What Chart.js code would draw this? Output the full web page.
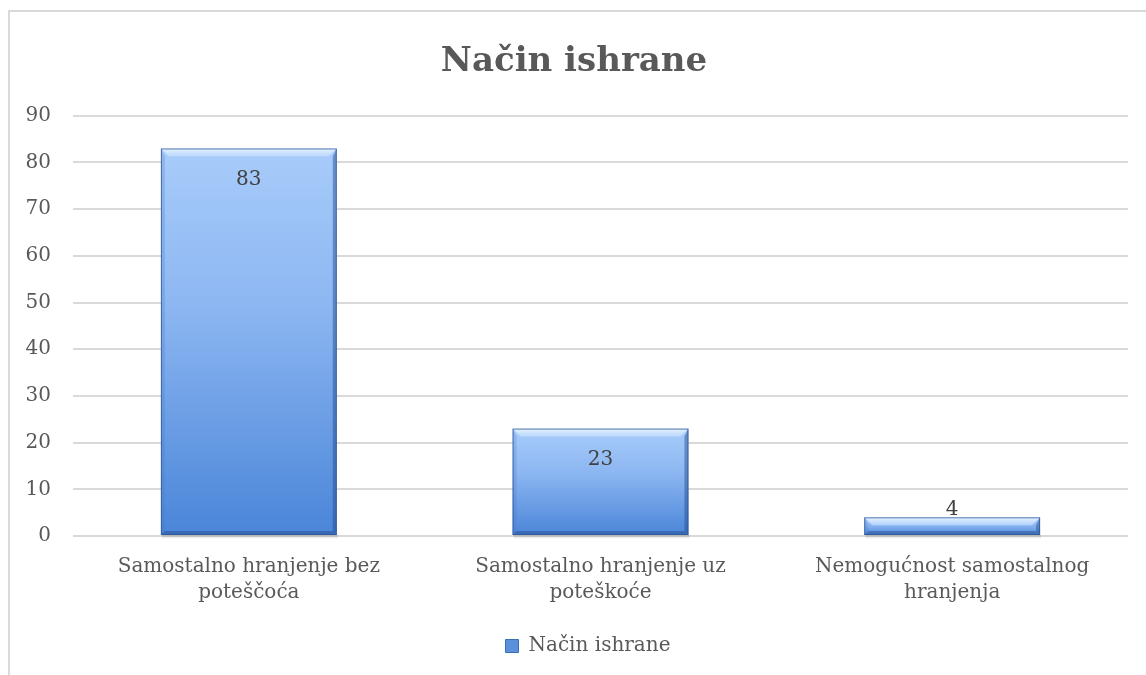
<!DOCTYPE html>
<html>
<head>
<meta charset="utf-8">
<script src="https://cdn.jsdelivr.net/npm/chart.js@4.4.1/dist/chart.umd.min.js"></script>
<style>
html,body{margin:0;padding:0;background:#fff;overflow:hidden;}
#c{position:absolute;left:0;top:0;}
</style>
</head>
<body>
<canvas id="c" width="1146" height="675"></canvas>
<script>
const titleText = 'Način ishrane';
const seriesName = 'Način ishrane';
const categories = [
  ['Samostalno hranjenje bez', 'poteščoća'],
  ['Samostalno hranjenje uz', 'poteškoće'],
  ['Nemogućnost samostalnog', 'hranjenja']
];
const values = [83, 23, 4];
const yTicks = [0, 10, 20, 30, 40, 50, 60, 70, 80, 90];

const FONT = "'DejaVu Serif', serif";
const TXT = '#595959';

const framePlugin = {
  id: 'frame',
  afterInit(chart) {
    const lg = chart.legend;
    if (lg) {
      const orig = lg.draw.bind(lg);
      lg.draw = function (area) {
        chart.ctx.save();
        chart.ctx.translate(14, 0);
        orig(area);
        chart.ctx.restore();
      };
    }
  },
  beforeDraw(chart) {
    const ctx = chart.ctx;
    ctx.save();
    ctx.strokeStyle = '#d9d9d9';
    ctx.lineWidth = 2;
    ctx.beginPath();
    ctx.moveTo(9, 675); ctx.lineTo(9, 11); ctx.lineTo(1146, 11);
    ctx.stroke();
    ctx.restore();
  }
};

const bevelPlugin = {
  id: 'bevel',
  afterDatasetsDraw(chart) {
    const ctx = chart.ctx;
    const meta = chart.getDatasetMeta(0);
    meta.data.forEach((el, i) => {
      const w = el.width, l = el.x - w / 2, r = el.x + w / 2, t = el.y, b = el.base;
      const h = b - t;
      const bv = Math.min(8, h / 2);
      const sv = Math.min(4, h / 2);
      ctx.save();
      ctx.beginPath();
      ctx.moveTo(l, t); ctx.lineTo(r, t); ctx.lineTo(r - bv, t + bv); ctx.lineTo(l + bv, t + bv); ctx.closePath();
      const tg = ctx.createLinearGradient(0, t, 0, t + bv);
      tg.addColorStop(0, 'rgba(235,245,255,0.95)');
      tg.addColorStop(1, 'rgba(200,225,255,0.6)');
      ctx.fillStyle = tg;
      ctx.fill();
      ctx.beginPath();
      ctx.moveTo(l, t); ctx.lineTo(l + sv, t + bv); ctx.lineTo(l + sv, b - sv); ctx.lineTo(l, b); ctx.closePath();
      ctx.fillStyle = 'rgba(70,120,200,0.25)';
      ctx.fill();
      ctx.beginPath();
      ctx.moveTo(r, t); ctx.lineTo(r - sv, t + bv); ctx.lineTo(r - sv, b - sv); ctx.lineTo(r, b); ctx.closePath();
      ctx.fillStyle = 'rgba(30,70,140,0.45)';
      ctx.fill();
      ctx.beginPath();
      ctx.moveTo(l, b); ctx.lineTo(l + sv, b - sv); ctx.lineTo(r - sv, b - sv); ctx.lineTo(r, b); ctx.closePath();
      ctx.fillStyle = 'rgba(30,70,140,0.45)';
      ctx.fill();
      ctx.strokeStyle = 'rgba(45,85,150,0.75)';
      ctx.lineWidth = 1;
      ctx.strokeRect(l + 0.5, t + 0.5, w - 1, h - 1);
      const sg = ctx.createLinearGradient(0, b, 0, b + 4);
      sg.addColorStop(0, 'rgba(0,0,0,0.18)');
      sg.addColorStop(1, 'rgba(0,0,0,0)');
      ctx.fillStyle = sg;
      ctx.fillRect(l + 1, b, w, 4);
      ctx.fillStyle = '#404040';
      ctx.font = "20px " + FONT;
      ctx.textAlign = 'center';
      ctx.textBaseline = 'middle';
      const v = chart.data.datasets[0].data[i];
      const ly = h > 45 ? t + 31 : t - 8;
      ctx.fillText(String(v), el.x, ly);
      ctx.restore();
    });
  }
};

function barFill(context) {
  const chart = context.chart;
  const ys = chart.scales.y;
  if (!ys || context.type !== 'data') return '#6f9fe6';
  const v = context.raw;
  const top = ys.getPixelForValue(v);
  const bottom = ys.getPixelForValue(0);
  if (!isFinite(top) || !isFinite(bottom) || bottom - top < 1) return '#6f9fe6';
  const g = chart.ctx.createLinearGradient(0, top, 0, bottom);
  g.addColorStop(0, '#a8ccfa');
  g.addColorStop(0.4, '#8db7f2');
  g.addColorStop(1, '#4a85d8');
  return g;
}

new Chart(document.getElementById('c'), {
  type: 'bar',
  data: {
    labels: categories,
    datasets: [{
      label: seriesName,
      data: values,
      backgroundColor: barFill,
      borderWidth: 0,
      categoryPercentage: 1.0,
      barPercentage: 0.5
    }]
  },
  options: {
    responsive: false,
    animation: false,
    layout: { padding: { left: 20, right: 18, top: 10, bottom: 9 } },
    plugins: {
      title: {
        display: true,
        text: titleText,
        color: TXT,
        font: { family: FONT, size: 34, weight: 'bold' },
        padding: { top: 32, bottom: 33 }
      },
      legend: {
        display: true,
        position: 'bottom',
        labels: {
          color: TXT,
          font: { family: FONT, size: 20 },
          boxWidth: 13,
          boxHeight: 13,
          padding: 10,
          generateLabels(chart) {
            return [{
              text: seriesName,
              fillStyle: '#5a90dc',
              strokeStyle: '#3a6fb8',
              lineWidth: 1,
              hidden: false,
              datasetIndex: 0,
              fontColor: TXT
            }];
          }
        }
      },
      tooltip: { enabled: false }
    },
    scales: {
      x: {
        grid: { display: false },
        border: { display: false },
        afterFit(axis) { axis.height += 10; },
        ticks: {
          color: TXT,
          font: { family: FONT, size: 20, lineHeight: 1.3 },
          padding: 10,
          maxRotation: 0,
          autoSkip: false
        }
      },
      y: {
        min: 0,
        max: 90,
        afterBuildTicks(axis) { axis.ticks = yTicks.map(v => ({ value: v })); },
        afterFit(axis) { axis.width = 53; },
        grid: { color: '#d9d9d9', lineWidth: 2, drawTicks: false },
        border: { display: false },
        ticks: {
          color: TXT,
          font: { family: FONT, size: 20 },
          padding: 22
        }
      }
    }
  },
  plugins: [framePlugin, bevelPlugin]
});
</script>
</body>
</html>
